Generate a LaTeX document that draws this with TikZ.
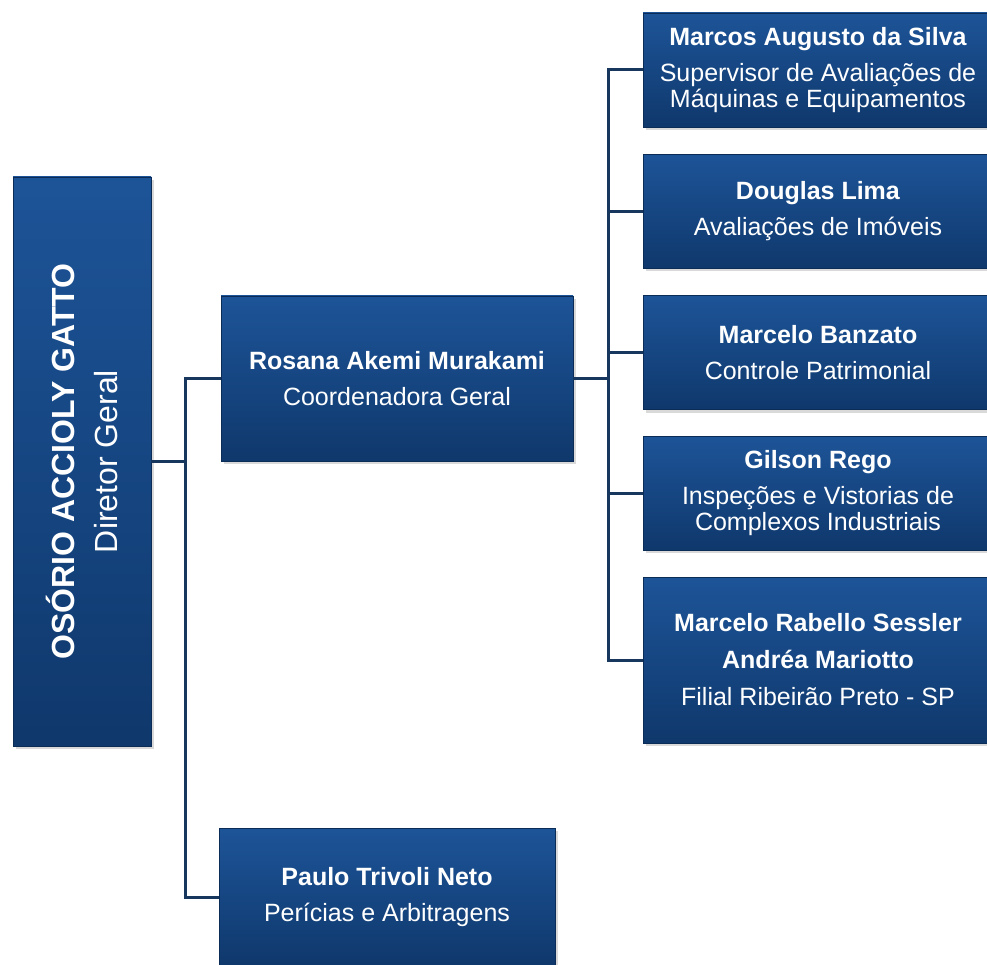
\documentclass[tikz,border=0pt]{standalone}
\usepackage{fontspec}
\setmainfont{Liberation Sans}
\usetikzlibrary{shadows}
\definecolor{boxtop}{RGB}{29,84,152}
\definecolor{boxbottom}{RGB}{15,56,108}
\definecolor{boxline}{RGB}{12,44,88}
\definecolor{linkblue}{RGB}{23,55,94}

\begin{document}
\begin{tikzpicture}[x=1pt,y=-1pt,
  orgbox/.style={rectangle, top color=boxtop, bottom color=boxbottom,
    draw=boxline, line width=0.6pt, text=white, align=center, inner sep=0pt,
    drop shadow={shadow xshift=3pt, shadow yshift=-3pt, opacity=0.3},
    font=\fontsize{25}{26}\selectfont},
  rightbox/.style={orgbox, minimum width=350pt, minimum height=114pt},
  link/.style={draw=linkblue, line width=3pt}]
\useasboundingbox (0,0) rectangle (987,965);
% director
\node[orgbox, minimum width=138pt, minimum height=569pt] (director) at (82,461.5) {};
\node[rotate=90, text=white, align=center, font=\fontsize{32}{43}\selectfont]
  (dirlabel) at (director.center) {\textbf{OSÓRIO ACCIOLY GATTO}\\Diretor Geral};
% second level
\node[orgbox, minimum width=352pt, minimum height=165pt] (rosana) at (397,378.5)
  {\textbf{Rosana Akemi Murakami}\\[10pt]Coordenadora Geral};
\node[orgbox, minimum width=336pt, minimum height=138pt] (paulo) at (387,897)
  {\textbf{Paulo Trivoli Neto}\\[10pt]Perícias e Arbitragens};
% third level
\node[rightbox] (marcos) at (818,70)
  {\textbf{Marcos Augusto da Silva}\\[10pt]Supervisor de Avaliações de\\Máquinas e Equipamentos};
\node[rightbox] (douglas) at (818,211.5)
  {\textbf{Douglas Lima}\\[10pt]Avaliações de Imóveis};
\node[rightbox] (banzato) at (818,352.5)
  {\textbf{Marcelo Banzato}\\[10pt]Controle Patrimonial};
\node[rightbox] (gilson) at (818,493)
  {\textbf{Gilson Rego}\\[10pt]Inspeções e Vistorias de\\Complexos Industriais};
\node[rightbox, minimum height=166pt] (sessler) at (818,660)
  {\textbf{Marcelo Rabello Sessler}\\[11pt]\textbf{Andréa Mariotto}\\[11pt]Filial Ribeirão Preto - SP};
% connectors
\draw[link] (director.east) -- ++(34,0) |- (rosana.west);
\draw[link] (director.east) -- ++(34,0) |- (paulo.west);
\foreach \sub in {marcos,douglas,banzato,gilson,sessler}
  \draw[link] (rosana.east) -- ++(35,0) |- (\sub.west);
\end{tikzpicture}
\end{document}
